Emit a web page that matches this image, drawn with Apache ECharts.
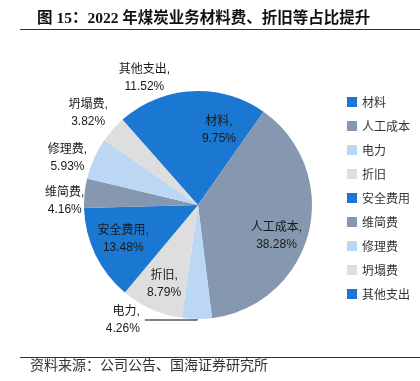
<!DOCTYPE html>
<html>
<head>
<meta charset="utf-8">
<script src="https://cdn.jsdelivr.net/npm/echarts@6/dist/echarts.min.js"></script>
<style>
html,body{margin:0;padding:0;background:#fff;}
#chart{width:420px;height:381px;}
</style>
</head>
<body>
<div id="chart"></div>
<script>
// ---- data ----
const categories = ['材料', '人工成本', '电力', '折旧', '安全费用', '维简费', '修理费', '坍塌费', '其他支出'];
const shares = [9.75, 38.28, 4.26, 8.79, 13.48, 4.16, 5.93, 3.82, 11.52];
const colors = ['#1A78D3', '#8697B0', '#BCD7F3', '#DEDEDE', '#1A78D3', '#8697B0', '#BCD7F3', '#DEDEDE', '#1A78D3'];
const insideLabels = ['材料', '人工成本', '折旧', '安全费用'];
const outerLabels = ['维简费', '修理费', '坍塌费', '其他支出'];
const leaderLabels = ['电力'];
const titleText = '图 15：2022 年煤炭业务材料费、折旧等占比提升';
const sourceText = '资料来源：公司公告、国海证券研究所';

const CJK = '"Liberation Sans", "Noto Sans CJK SC", sans-serif';
const fmt = p => p.name + ',\n' + p.value.toFixed(2) + '%';
const center = [198, 205];
const labelStyle = { fontFamily: CJK, fontSize: 12, color: '#1a1a1a', lineHeight: 17 };

function labelPie(radius, shown, extra) {
  return {
    type: 'pie', radius: radius, center: center, startAngle: 90, clockwise: true,
    silent: true, emphasis: { disabled: true }, animation: false,
    avoidLabelOverlap: false,
    itemStyle: { color: 'rgba(0,0,0,0)', borderWidth: 0 },
    labelLine: { show: false },
    data: categories.map((c, i) => ({
      name: c, value: shares[i],
      label: Object.assign({ show: shown.includes(c), position: 'inside', formatter: fmt }, labelStyle, (extra && extra[c]) || {})
    }))
  };
}

const chart = echarts.init(document.getElementById('chart'), null, { renderer: 'canvas' });
chart.setOption({
  animation: false,
  backgroundColor: '#ffffff',
  title: {
    text: titleText, left: 32, top: 6,
    textStyle: { fontFamily: '"Liberation Serif", "Noto Sans CJK SC", serif', fontWeight: 'bold', fontSize: 15.5, color: '#111' }
  },
  legend: {
    orient: 'vertical', left: 342, top: 91,
    itemWidth: 10, itemHeight: 10, itemGap: 12, icon: 'rect',
    data: categories,
    selectedMode: false,
    textStyle: { fontFamily: '"Noto Sans CJK SC", sans-serif', fontSize: 12, color: '#333' }
  },
  graphic: [
    { type: 'line', shape: { x1: 20, y1: 29.5, x2: 420, y2: 29.5 }, style: { stroke: '#333', lineWidth: 1 } },
    { type: 'line', shape: { x1: 20, y1: 357.5, x2: 420, y2: 357.5 }, style: { stroke: '#333', lineWidth: 1 } },
    { type: 'text', left: 30, top: 358, style: { text: sourceText, font: '14px "Noto Sans CJK SC", sans-serif', fill: '#333' } }
  ],
  series: [
    {
      type: 'pie', radius: 114, center: center, startAngle: 90, clockwise: true,
      emphasis: { disabled: true }, animation: false, avoidLabelOverlap: false,
      itemStyle: { borderWidth: 0 },
      data: categories.map((c, i) => ({
        name: c, value: shares[i],
        itemStyle: { color: colors[i] },
        label: Object.assign({ show: leaderLabels.includes(c), position: 'outside', formatter: fmt, padding: [33, 0, 0, 0], align: 'center' }, labelStyle),
        labelLine: { show: leaderLabels.includes(c), length: 1, length2: 52, smooth: false, lineStyle: { color: '#555', width: 1.5 } }
      }))
    },
    labelPie(160, insideLabels, {
      '材料': { offset: [-4, 4] },
      '人工成本': { offset: [-2, 11] },
      '折旧': { offset: [0, 3] },
      '安全费用': { offset: [0, -2] }
    }),
    labelPie(280, outerLabels, {
      '维简费': { offset: [9, 11] },
      '修理费': { offset: [0, 12] },
      '坍塌费': { offset: [-3, 3] },
      '其他支出': { offset: [-3, 7] }
    })
  ]
});
</script>
</body>
</html>
